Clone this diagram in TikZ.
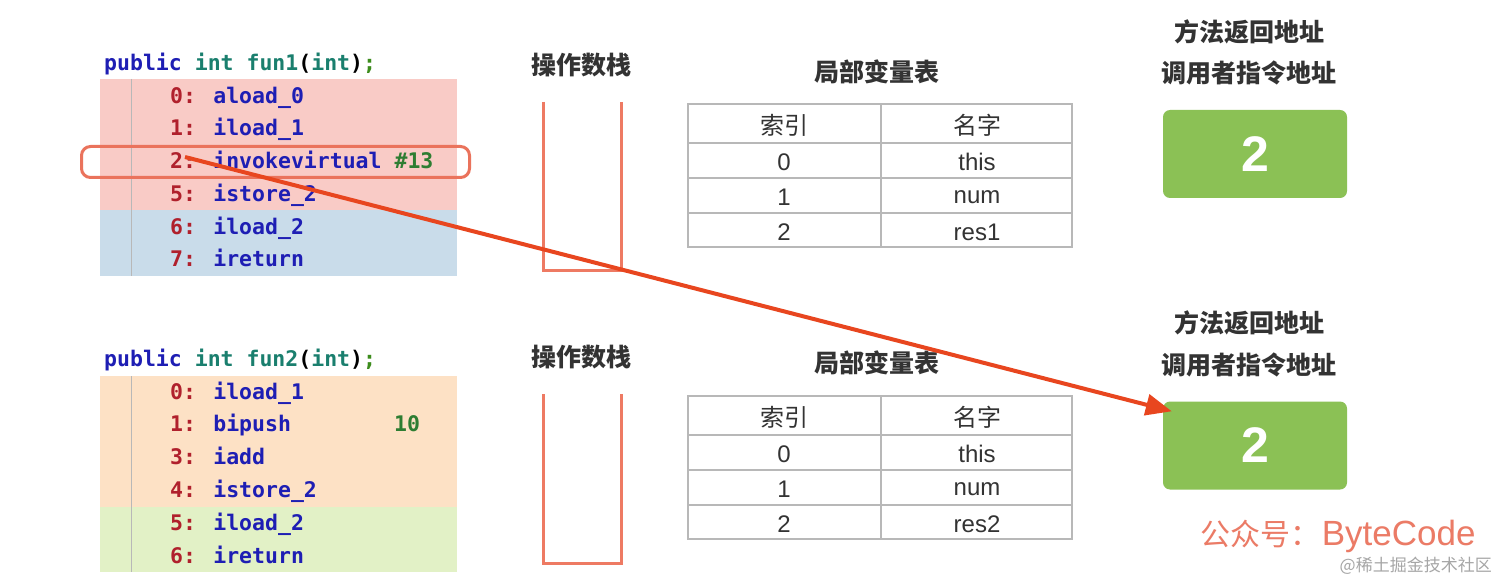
\documentclass[tikz,border=0pt]{standalone}
\usepackage{fontspec}
\setmainfont{Liberation Sans}
\newfontfamily\cjk{Noto Sans CJK SC}
\newfontfamily\code{DejaVu Sans Mono}
\usetikzlibrary{arrows.meta}
\definecolor{numc}{HTML}{B0202C}
\definecolor{insc}{HTML}{1E1EB4}
\definecolor{grc}{HTML}{2E7D32}
\definecolor{tealc}{HTML}{1A7F6E}
\definecolor{semic}{HTML}{3C8C1C}
\definecolor{pinkbg}{HTML}{F9CBC6}
\definecolor{bluebg}{HTML}{C9DCEA}
\definecolor{peachbg}{HTML}{FDE1C5}
\definecolor{greenbg}{HTML}{E2F1C6}
\definecolor{hlc}{HTML}{EA735C}
\definecolor{stackc}{HTML}{EE7A63}
\definecolor{gridc}{HTML}{B8B8B8}
\definecolor{txtc}{HTML}{333333}
\definecolor{boxg}{HTML}{8BC155}
\definecolor{arrc}{HTML}{E8461F}
\definecolor{wmc}{HTML}{EB7B66}
\newcommand\vtable[3]{%
  \draw[gridline] (688,#1) rectangle (1072,#1+143);
  \draw[gridline] (881,#1) -- (881,#1+143);
  \draw[gridline] (688,#1+39) -- (1072,#1+39);
  \draw[gridline] (688,#1+74) -- (1072,#1+74);
  \draw[gridline] (688,#1+109) -- (1072,#1+109);
  \node[cell] (#3h1) at (784,#1+21) {\cjk 索引};
  \node[cell] (#3h2) at (977,#1+21) {\cjk 名字};
  \node[cell] (#3i0) at (784,#1+58) {0};
  \node[cell] (#3n0) at (977,#1+58) {this};
  \node[cell] (#3i1) at (784,#1+93) {1};
  \node[cell] (#3n1) at (977,#1+93) {num};
  \node[cell] (#3i2) at (784,#1+128) {2};
  \node[cell] (#3n2) at (977,#1+128) {#2};
}
\begin{document}
\begin{tikzpicture}[x=1pt,y=-1pt,
  code/.style={anchor=mid west, inner sep=0pt, font=\code\bfseries\fontsize{21.5}{24}\selectfont},
  gridline/.style={draw=gridc, line width=1.2pt},
  cell/.style={inner sep=0pt, text=txtc, font=\fontsize{24}{28}\selectfont},
  title/.style={inner sep=0pt, text=txtc, font=\cjk\bfseries\fontsize{25}{28}\selectfont},
  stackline/.style={draw=stackc, line width=3pt},
  retbox/.style={fill=boxg, rounded corners=7pt, minimum width=184pt, minimum height=88pt, inner sep=0pt, text=white, font=\bfseries\fontsize{50}{56}\selectfont},
  arrowline/.style={draw=arrc, line width=4pt, -{Triangle[length=26pt,width=21pt]}}
]
\useasboundingbox (0,0) rectangle (1512,588);
\fill[white] (0,0) rectangle (1512,588);

% ---------- fun1 code ----------
\fill[pinkbg] (100,79) rectangle (457,210);
\fill[bluebg] (100,210) rectangle (457,276);
\draw[gridc, line width=1pt] (131,79) -- (131,276);
\node[code] (h1) at (104,68) {\textcolor{insc}{public} \textcolor{tealc}{int fun1}(\textcolor{tealc}{int})\textcolor{semic}{;}};
\node[code] (a0) at (170,101) {\textcolor{numc}{0:} \textcolor{insc}{aload\_0}};
\node[code] (a1) at (170,133) {\textcolor{numc}{1:} \textcolor{insc}{iload\_1}};
\node[code] (a2) at (170,166) {\textcolor{numc}{2:} \textcolor{insc}{invokevirtual} \textcolor{grc}{\#13}};
\node[code] (a5) at (170,199) {\textcolor{numc}{5:} \textcolor{insc}{istore\_2}};
\node[code] (a6) at (170,232) {\textcolor{numc}{6:} \textcolor{insc}{iload\_2}};
\node[code] (a7) at (170,264) {\textcolor{numc}{7:} \textcolor{insc}{ireturn}};
\node[draw=hlc, line width=3pt, rounded corners=9pt, minimum width=388pt, minimum height=31pt, inner sep=0pt] (hl) at (275.5,162) {};

% ---------- fun2 code ----------
\fill[peachbg] (100,376) rectangle (457,507);
\fill[greenbg] (100,507) rectangle (457,572);
\draw[gridc, line width=1pt] (131,376) -- (131,572);
\node[code] (h2) at (104,364) {\textcolor{insc}{public} \textcolor{tealc}{int fun2}(\textcolor{tealc}{int})\textcolor{semic}{;}};
\node[code] (b0) at (170,397) {\textcolor{numc}{0:} \textcolor{insc}{iload\_1}};
\node[code] (b1) at (170,429) {\textcolor{numc}{1:} \textcolor{insc}{bipush}};
\node[code] (b1v) at (394,429) {\textcolor{grc}{10}};
\node[code] (b3) at (170,462) {\textcolor{numc}{3:} \textcolor{insc}{iadd}};
\node[code] (b4) at (170,495) {\textcolor{numc}{4:} \textcolor{insc}{istore\_2}};
\node[code] (b5) at (170,528) {\textcolor{numc}{5:} \textcolor{insc}{iload\_2}};
\node[code] (b6) at (170,561) {\textcolor{numc}{6:} \textcolor{insc}{ireturn}};

% ---------- operand stacks ----------
\node[title] (st1) at (581,65) {操作数栈};
\draw[stackline] (543,102) -- (543,270) -- (621,270) -- (621,102);
\node[title] (st2) at (581,357) {操作数栈};
\draw[stackline] (543,394) -- (543,563) -- (621,563) -- (621,394);

% ---------- local variable tables ----------
\node[title] (lv1) at (877,72) {局部变量表};
\vtable{104}{res1}{ta}
\node[title] (lv2) at (877,363) {局部变量表};
\vtable{396}{res2}{tb}

% ---------- return addresses ----------
\node[title] (ra1) at (1249,32) {方法返回地址};
\node[title] (ca1) at (1249,73) {调用者指令地址};
\node[retbox] (ret1) at (1255,154) {2};
\node[title] (ra2) at (1249,323) {方法返回地址};
\node[title] (ca2) at (1249,365) {调用者指令地址};
\node[retbox] (ret2) at (1255,445.5) {2};

% ---------- arrow ----------
\coordinate (arrS) at (185,157);
\draw[arrowline] (arrS) -- ([shift={(9,10)}]ret2.north west);

% ---------- watermark ----------
\node[anchor=mid west, inner sep=0pt, text=wmc] (wm) at (1200,543) {{\cjk\fontsize{30}{34}\selectfont 公众号：}\,{\fontsize{35}{38}\selectfont ByteCode}};
\node[anchor=mid east, inner sep=0pt, text=gray!70] (wm2) at (1492,569) {\cjk\fontsize{17}{20}\selectfont @稀土掘金技术社区};
\end{tikzpicture}
\end{document}
